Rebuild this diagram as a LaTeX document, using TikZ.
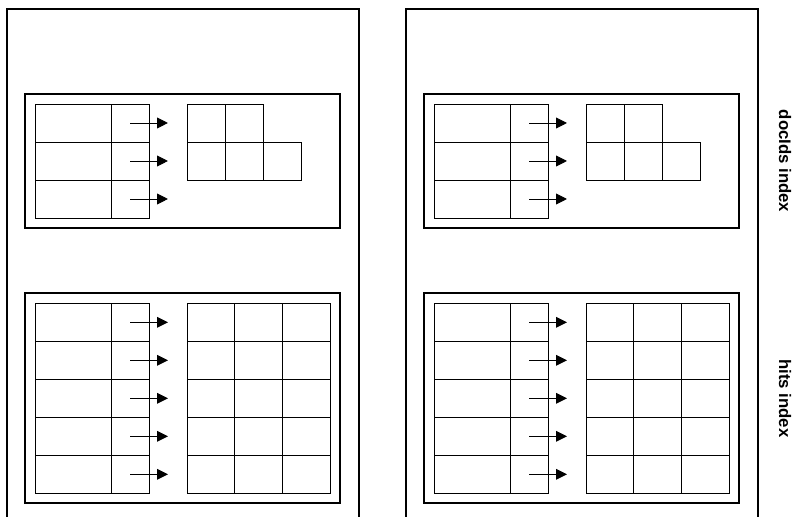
\documentclass[tikz,border=0pt]{standalone}
\usepackage{fontspec}
\setmainfont{Liberation Sans}
\usetikzlibrary{arrows.meta,positioning}

\tikzset{
  frame/.style={line width=1.4pt},
  cell/.style={draw,line width=0.7pt,inner sep=0pt,outer sep=0pt,minimum height=0.95cm},
  keycell/.style={cell,minimum width=1.9cm},
  ptrcell/.style={cell,minimum width=0.95cm},
  slot/.style={cell,minimum width=0.95cm},
  hitslot/.style={cell,minimum width=1.1917cm},
  link/.style={-{Triangle[length=2.75mm,width=2.7mm]},line width=0.7pt},
  side/.style={rotate=-90,inner sep=0pt,font=\bfseries\fontsize{11.9}{14}\selectfont}
}

\begin{document}
\begin{tikzpicture}[line cap=butt]
\useasboundingbox (0,0) rectangle (19.9,12.9);
\foreach \s/\n in {0/a,9.975/b}{
\begin{scope}[xshift=\s cm]
% outer page, runs off the bottom
\draw[frame] (0.175,-0.3) |- (8.975,12.675) -- (8.975,-0.3);
% docIds part
\draw[frame] (0.625,7.2) rectangle (8.5,10.55);
\foreach \i in {1,2,3}{
  \node[keycell,anchor=north west] (\n-dk\i) at (0.875,{10.3-0.95*(\i-1)}) {};
  \node[ptrcell,right=0pt of \n-dk\i] (\n-dp\i) {};
  \coordinate[right=0.95cm of \n-dp\i.center] (\n-de\i);
  \draw[link] (\n-dp\i.center) -- (\n-de\i);
}
\node[slot,anchor=north west] (\n-d1) at (4.675,10.3) {};
\node[slot,right=0pt of \n-d1] (\n-d2) {};
\node[slot,below=0pt of \n-d1] (\n-d3) {};
\node[slot,right=0pt of \n-d3] (\n-d4) {};
\node[slot,right=0pt of \n-d4] (\n-d5) {};
% hits part
\draw[frame] (0.625,0.317) rectangle (8.5,5.567);
\foreach \i in {1,...,5}{
  \node[keycell,anchor=north west] (\n-hk\i) at (0.875,{5.317-0.95*(\i-1)}) {};
  \node[ptrcell,right=0pt of \n-hk\i] (\n-hp\i) {};
  \node[hitslot,anchor=north west] (\n-hs\i) at (4.675,{5.317-0.95*(\i-1)}) {};
  \node[hitslot,right=0pt of \n-hs\i] (\n-ht\i) {};
  \node[hitslot,right=0pt of \n-ht\i] (\n-hu\i) {};
  \coordinate[right=0.95cm of \n-hp\i.center] (\n-he\i);
  \draw[link] (\n-hp\i.center) -- (\n-he\i);
}
\end{scope}
}
\node[side] (docids) at (19.625,8.875) {docIds index};
\node[side] (hits) at (19.625,2.94) {hits index};
\end{tikzpicture}
\end{document}
